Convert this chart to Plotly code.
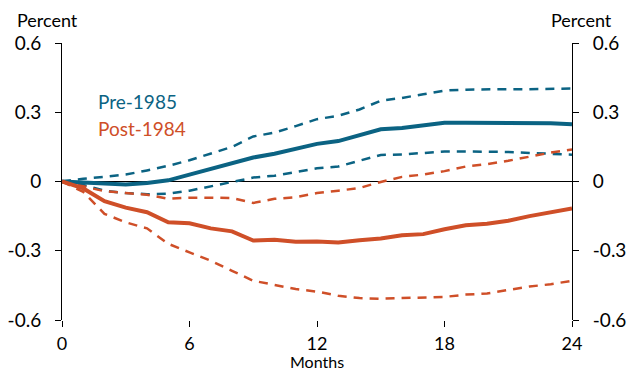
import plotly.graph_objects as go

months = list(range(0, 25))

pre_mid = [0, -0.005, -0.01, -0.013, -0.006, 0.005, 0.03, 0.055, 0.077, 0.104, 0.12, 0.142, 0.163, 0.175, 0.2, 0.226, 0.232, 0.243, 0.254, 0.254, 0.254, 0.253, 0.251, 0.252, 0.248]
pre_hi = [0, 0.012, 0.02, 0.03, 0.048, 0.068, 0.092, 0.12, 0.15, 0.195, 0.212, 0.24, 0.27, 0.285, 0.312, 0.35, 0.362, 0.378, 0.394, 0.398, 0.4, 0.4, 0.4, 0.403, 0.403]
pre_lo = [0, -0.015, -0.04, -0.05, -0.055, -0.053, -0.04, -0.022, -0.004, 0.017, 0.025, 0.04, 0.057, 0.065, 0.09, 0.115, 0.117, 0.125, 0.13, 0.13, 0.13, 0.128, 0.124, 0.12, 0.116]

post_mid = [0, -0.03, -0.085, -0.113, -0.133, -0.177, -0.181, -0.203, -0.216, -0.256, -0.252, -0.261, -0.26, -0.264, -0.255, -0.247, -0.233, -0.228, -0.207, -0.19, -0.183, -0.17, -0.15, -0.133, -0.117]
post_hi = [0, -0.02, -0.042, -0.05, -0.057, -0.075, -0.07, -0.07, -0.072, -0.093, -0.075, -0.068, -0.05, -0.04, -0.028, -0.002, 0.02, 0.03, 0.045, 0.065, 0.075, 0.09, 0.108, 0.125, 0.139]
post_lo = [0, -0.045, -0.14, -0.177, -0.203, -0.27, -0.307, -0.343, -0.387, -0.43, -0.448, -0.466, -0.477, -0.495, -0.505, -0.508, -0.505, -0.503, -0.5, -0.49, -0.485, -0.47, -0.455, -0.445, -0.43]

x_ticks = [0, 6, 12, 18, 24]
y_ticks = [-0.6, -0.3, 0, 0.3, 0.6]
y_labels = ["-0.6", "-0.3", "0", "0.3", "0.6"]

TEAL = "#0b6383"
ORANGE = "#cf4f28"
FONT = "Lato"

fig = go.Figure()

def add(y, color, width, dash):
    fig.add_trace(go.Scatter(x=months, y=y, mode="lines",
                             line=dict(color=color, width=width, dash=dash),
                             showlegend=False, hoverinfo="skip"))

add(pre_hi, TEAL, 2.5, "9px,7px")
add(pre_lo, TEAL, 2.5, "9px,7px")
add(post_hi, ORANGE, 2.5, "9px,7px")
add(post_lo, ORANGE, 2.5, "9px,7px")
add(pre_mid, TEAL, 4, "solid")
add(post_mid, ORANGE, 4, "solid")

# invisible trace for right axis
fig.add_trace(go.Scatter(x=[0], y=[0], yaxis="y2", mode="markers",
                         marker=dict(opacity=0), showlegend=False, hoverinfo="skip"))

TICKFONT = dict(family=FONT, size=19, color="black")

fig.update_layout(
    width=627, height=372,
    margin=dict(l=62, r=55, t=43, b=52),
    plot_bgcolor="white", paper_bgcolor="white",
    font=dict(family=FONT, size=19, color="black"),
    xaxis=dict(range=[0, 24], tickvals=x_ticks, ticktext=[str(v) for v in x_ticks],
               ticks="outside", ticklen=6, tickcolor="black", showline=False,
               showgrid=False, zeroline=False, tickfont=dict(family=FONT, size=18, color="black"),
               ticklabelstandoff=1, automargin=False),
    yaxis=dict(range=[-0.6, 0.6], tickvals=y_ticks, ticktext=y_labels,
               ticks="outside", ticklen=6, tickcolor="black", showline=True,
               linecolor="black", linewidth=1, showgrid=False,
               zeroline=True, zerolinecolor="black", zerolinewidth=1,
               tickfont=TICKFONT, ticklabelstandoff=10, automargin=False),
    yaxis2=dict(range=[-0.6, 0.6], tickvals=y_ticks, ticktext=y_labels,
                overlaying="y", side="right", anchor="x",
                ticks="outside", ticklen=6, tickcolor="black", showline=True,
                linecolor="black", linewidth=1, showgrid=False, zeroline=False,
                tickfont=TICKFONT, ticklabelstandoff=10, automargin=False),
)

fig.add_annotation(text="Percent", xref="paper", yref="paper", x=-0.029, y=1.0,
                   xanchor="center", yanchor="middle", yshift=23, showarrow=False,
                   font=dict(size=18))
fig.add_annotation(text="Percent", xref="paper", yref="paper", x=1.018, y=1.0,
                   xanchor="center", yanchor="middle", yshift=23, showarrow=False,
                   font=dict(size=18))
fig.add_annotation(text="Months", xref="paper", yref="paper", x=0.5, y=0,
                   xanchor="center", yanchor="bottom", yshift=-53, showarrow=False,
                   font=dict(size=16))
fig.add_annotation(text="Pre-1985", xref="x", yref="y", x=1.6, y=0.345,
                   xanchor="left", yanchor="middle", showarrow=False,
                   font=dict(size=19, color=TEAL))
fig.add_annotation(text="Post-1984", xref="x", yref="y", x=1.6, y=0.23,
                   xanchor="left", yanchor="middle", showarrow=False,
                   font=dict(size=19, color=ORANGE))

fig.write_html("out.html")
